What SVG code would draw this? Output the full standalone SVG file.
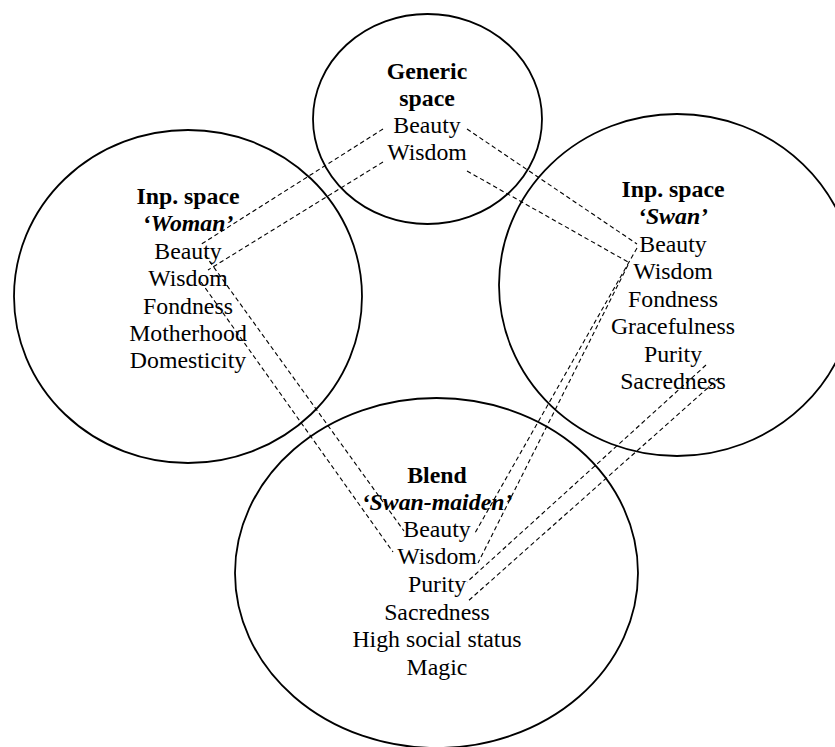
<svg xmlns="http://www.w3.org/2000/svg" width="835" height="747" viewBox="0 0 835 747">
<style>
.sp{fill:none;stroke:#000;stroke-width:1.8}
.t{font-family:"Liberation Serif","Times New Roman",serif;font-size:23.8px;fill:#000;text-anchor:middle}
.b{font-weight:bold}
.bi{font-weight:bold;font-style:italic}
.c line{stroke:#000;stroke-width:1.1;stroke-dasharray:4.5,3;fill:none}
</style>
<rect width="835" height="747" fill="#fff"/>
<g id="generic">
<ellipse class="sp" cx="427.5" cy="119" rx="114.5" ry="105"/>
<text class="t b" x="427" y="78.5">Generic</text>
<text class="t b" x="427" y="105.5">space</text>
<text class="t" x="427" y="133">Beauty</text>
<text class="t" x="427" y="160">Wisdom</text>
</g>
<g id="woman">
<ellipse class="sp" cx="188" cy="296.5" rx="174" ry="166.5"/>
<text class="t b" x="188" y="204">Inp. space</text>
<text class="t bi" x="188" y="231.4">‘Woman’</text>
<text class="t" x="188" y="258.8">Beauty</text>
<text class="t" x="188" y="286.2">Wisdom</text>
<text class="t" x="188" y="313.6">Fondness</text>
<text class="t" x="188" y="341">Motherhood</text>
<text class="t" x="188" y="368.4">Domesticity</text>
</g>
<g id="swan">
<ellipse class="sp" cx="677" cy="285" rx="178" ry="171"/>
<text class="t b" x="673" y="196.7">Inp. space</text>
<text class="t bi" x="673" y="224">‘Swan’</text>
<text class="t" x="673" y="251.5">Beauty</text>
<text class="t" x="673" y="278.7">Wisdom</text>
<text class="t" x="673" y="306.5">Fondness</text>
<text class="t" x="673" y="334">Gracefulness</text>
<text class="t" x="673" y="361.5">Purity</text>
<text class="t" x="673" y="389">Sacredness</text>
</g>
<g id="blend">
<ellipse class="sp" cx="436.5" cy="573" rx="201.5" ry="175"/>
<text class="t b" x="437" y="482.7">Blend</text>
<text class="t bi" x="437" y="510">‘Swan-maiden’</text>
<text class="t" x="437" y="537">Beauty</text>
<text class="t" x="437" y="564">Wisdom</text>
<text class="t" x="437" y="592">Purity</text>
<text class="t" x="437" y="620">Sacredness</text>
<text class="t" x="437" y="647">High social status</text>
<text class="t" x="437" y="675">Magic</text>
</g>
<g id="connectors" class="c">
<line x1="383" y1="129" x2="200" y2="245"/>
<line x1="383" y1="162" x2="208" y2="270"/>
<line x1="467" y1="129" x2="637" y2="244"/>
<line x1="467" y1="171" x2="628" y2="262"/>
<line x1="205" y1="255" x2="404" y2="531"/>
<line x1="201" y1="282" x2="393" y2="552"/>
<line x1="637" y1="248" x2="475" y2="533"/>
<line x1="628" y1="265" x2="478" y2="563"/>
<line x1="706" y1="365" x2="467" y2="582"/>
<line x1="719" y1="378" x2="467" y2="602"/>
</g>
</svg>
